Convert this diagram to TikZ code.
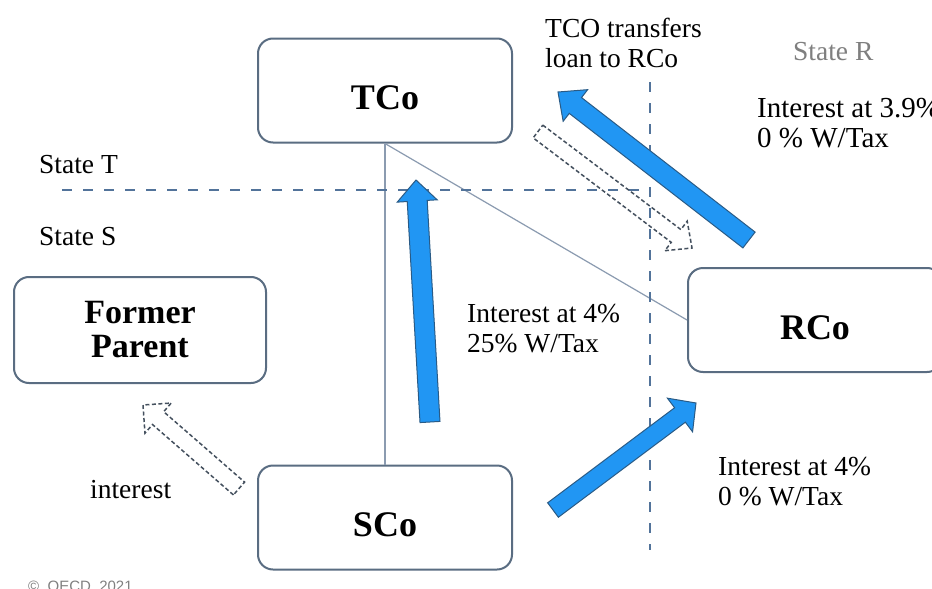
\documentclass[tikz,border=0pt]{standalone}
\usepackage{fontspec}
\setmainfont{Liberation Serif}
\newfontfamily\notefont{Liberation Sans}
\usetikzlibrary{calc}

\definecolor{boxedge}{HTML}{5A6D82}
\definecolor{border}{HTML}{52739A}
\definecolor{linkline}{HTML}{8B9BB0}
\definecolor{flowfill}{HTML}{2196F3}
\definecolor{flowedge}{HTML}{2A5B86}
\definecolor{pendedge}{HTML}{44505E}
\definecolor{statetext}{HTML}{7F7F7F}

% block arrow: style, tail, tip, half shaft width, half head width, head length
\newcommand{\flowshape}[6]{%
  \coordinate (#3-base) at ($(#3)!#6!(#2)$);
  \path[#1] ($(#2)!#4!90:(#3)$) -- ($(#3-base)!#4!90:(#3)$)
    -- ($(#3-base)!#5!90:(#3)$) -- (#3) -- ($(#3-base)!#5!-90:(#3)$)
    -- ($(#3-base)!#4!-90:(#3)$) -- ($(#2)!#4!-90:(#3)$) -- cycle;
}

\tikzset{
  company/.style={draw=boxedge, line width=2pt, rounded corners=15pt, fill=white,
    minimum width=254pt, minimum height=104pt, inner sep=0pt,
    font=\bfseries\fontsize{36}{36}\selectfont},
  boxlabel/.style={text height=38pt, text depth=0pt},
  % multi-line notes are placed by the baseline of their last line
  note/.style={font=\fontsize{27.5}{30}\selectfont, anchor=base west, inner sep=0pt, align=left},
  border/.style={draw=border, line width=2.8pt, dash pattern=on 10pt off 11pt},
  link/.style={draw=linkline, line width=1.2pt},
  flow/.style={fill=flowfill, draw=flowedge, line width=1pt, line join=miter},
  pending/.style={draw=pendedge, line width=1.5pt, dash pattern=on 4pt off 2.5pt},
}

\begin{document}
\begin{tikzpicture}[x=1pt, y=-1pt]
\useasboundingbox[fill=white] (0,0) rectangle (932,589);

% companies
\node[company, boxlabel] (tco) at (385,90.5) {TCo};
\node[company, minimum width=252pt, minimum height=106pt, align=center,
      font=\bfseries\fontsize{34}{34}\selectfont] (parent) at (140,330) {Former\\Parent};
\node[company, boxlabel] (rco) at (815,320) {RCo};
\node[company, boxlabel] (sco) at (385,517.5) {SCo};

% ownership links
\draw[link] (tco.south) -- (sco.north);
\draw[link] (tco.south) -- (rco.west);

% state borders
\coordinate (tLineW) at (62,190);
\coordinate (tLineE) at (645,190);
\coordinate (rLineN) at (650,82);
\coordinate (rLineS) at (650,550);
\draw[border] (tLineW) -- (tLineE);
\draw[border] (rLineN) -- (rLineS);

% planned flows (dashed outlines)
\coordinate (loanTail) at (538,131.5);
\coordinate (loanTip) at (692,248);
\flowshape{pending}{loanTail}{loanTip}{8pt}{18.5pt}{20pt}
\coordinate (payTail) at (239,488.5);
\coordinate (payTip) at (143,405);
\flowshape{pending}{payTail}{payTip}{8.5pt}{20pt}{20pt}

% interest flows
\coordinate (upTail) at (430,422);
\coordinate (upTip) at (416,180);
\flowshape{flow}{upTail}{upTip}{10pt}{20pt}{21pt}
\coordinate (backTail) at (749,240);
\coordinate (backTip) at (558,92);
\flowshape{flow}{backTail}{backTip}{10pt}{20pt}{22pt}
\coordinate (outTail) at (553,510);
\coordinate (outTip) at (696,403);
\flowshape{flow}{outTail}{outTip}{9pt}{21pt}{20pt}

% labels
\node[note] (stateT) at (39,173) {State T};
\node[note] (stateS) at (39,245) {State S};
\node[note, text=statetext] (stateR) at (793,60) {State R};
\node[note] (transfer) at (545,67) {TCO transfers\\loan to RCo};
\node[note, font=\fontsize{29}{30}\selectfont] (rateR) at (757,147) {Interest at 3.9\%\\0 \% W/Tax};
\node[note] (rateT) at (467,352) {Interest at 4\%\\25\% W/Tax};
\node[note] (rateS) at (718,505) {Interest at 4\%\\0 \% W/Tax};
\node[note] (back) at (90,498) {interest};
\node[font=\notefont\fontsize{15}{15}\selectfont, text=gray, anchor=base west, inner sep=0pt]
  (copy) at (28,591) {©\ \ OECD\ \ 2021};
\end{tikzpicture}
\end{document}
